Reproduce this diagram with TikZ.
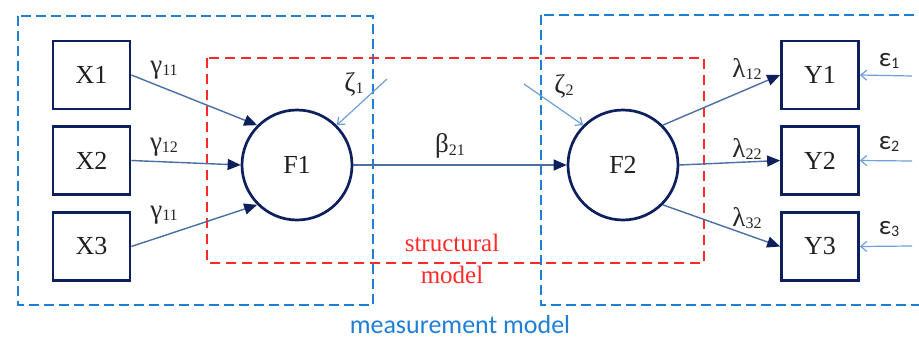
\documentclass[tikz,border=0pt]{standalone}
\usepackage{fontspec}
\setmainfont{Liberation Serif}
\newfontfamily\calib{Carlito}
\usetikzlibrary{arrows.meta}
\definecolor{navy}{HTML}{0D1F5C}
\definecolor{linec}{HTML}{4B6EA3}
\definecolor{lightc}{HTML}{6E9FD8}
\definecolor{dblue}{HTML}{1F7FD6}
\definecolor{dred}{HTML}{FF2A2A}
\newcommand\glab[2]{{\fontsize{27}{27}\selectfont #1}\raisebox{-0.25em}{\fontsize{16}{16}\selectfont #2}}
\begin{document}
\begin{tikzpicture}[x=1pt,y=-1pt,
  obsbox/.style={draw=navy,line width=2.7pt,minimum width=77pt,minimum height=68pt,inner sep=0pt,font=\fontsize{26}{26}\selectfont,text=black!88},
  latent/.style={circle,draw=navy,line width=2.7pt,minimum size=110pt,inner sep=0pt,font=\fontsize{26}{26}\selectfont,text=black!88},
  path/.style={draw=linec,line width=1.4pt,-{Triangle[length=13pt,width=11pt,fill=navy,color=navy]}},
  errarrow/.style={draw=lightc,line width=1.2pt,-{Straight Barb[length=6pt,width=10pt]}},
  glabel/.style={inner sep=0pt,text=black!85},
  blued/.style={draw=dblue,line width=2.8pt,dash pattern=on 10pt off 5pt},
  redd/.style={draw=dred,line width=2.8pt,dash pattern=on 10pt off 6pt}
]
\useasboundingbox (0,0) rectangle (919,340);
\clip (0,0) rectangle (919,340);
\fill[white] (0,0) rectangle (919,340);

% dashed frames
\draw[blued] (18,16) rectangle (373,305);
\draw[blued] (541,15) rectangle (940,305);
\draw[redd] (207,58) rectangle (704,263);

% nodes
\node[obsbox] (X1) at (91.5,75) {X1};
\node[obsbox] (X2) at (91.5,160.5) {X2};
\node[obsbox] (X3) at (91.5,246.5) {X3};
\node[obsbox] (Y1) at (820,75) {Y1};
\node[obsbox] (Y2) at (820,160.5) {Y2};
\node[obsbox] (Y3) at (820,246.5) {Y3};
\node[latent] (F1) at (297,165) {F1};
\node[latent] (F2) at (623,165) {F2};

\coordinate (z1) at (387,79);
\coordinate (z2) at (524,84);
\coordinate (e1) at (912,76);
\coordinate (e2) at (912,161);
\coordinate (e3) at (912,246);

% paths
\draw[path] (X1.east) -- (F1.135);
\draw[path] (X2.east) -- (F1.west);
\draw[path] (X3.east) -- (F1.225);
\draw[path] (F1.east) -- (F2.west);
\draw[path] (F2.45) -- (Y1.west);
\draw[path] (F2.east) -- (Y2.west);
\draw[path] (F2.-45) -- (Y3.west);
\draw[errarrow] (z1) -- (F1.45);
\draw[errarrow] (z2) -- (F2.135);
\draw[errarrow] (e1) -- (Y1.east);
\draw[errarrow] (e2) -- (Y2.east);
\draw[errarrow] (e3) -- (Y3.east);

% labels
\node[glabel] (g1) at (164,70) {\glab{γ}{11}};
\node[glabel] (g2) at (164,147) {\glab{γ}{12}};
\node[glabel] (g3) at (164,215) {\glab{γ}{11}};
\node[glabel] (b21) at (450,146) {\glab{β}{21}};
\node[glabel] (zeta1) at (354,84) {\glab{ζ}{1}};
\node[glabel] (zeta2) at (564,86) {\glab{ζ}{2}};
\node[glabel] (l12) at (747,69) {\glab{λ}{12}};
\node[glabel] (l22) at (747,149) {\glab{λ}{22}};
\node[glabel] (l32) at (747,218) {\glab{λ}{32}};
\node[glabel] (eps1) at (889,61) {\calib\glab{ε}{1}};
\node[glabel] (eps2) at (889,144) {\calib\glab{ε}{2}};
\node[glabel] (eps3) at (889,229) {\calib\glab{ε}{3}};

\node[inner sep=0pt,text=dred,font=\fontsize{25}{25}\selectfont] (sm1) at (452,243) {structural};
\node[inner sep=0pt,text=dred,font=\fontsize{25}{25}\selectfont] (sm2) at (452,275) {model};
\node[inner sep=0pt,text=dblue,font=\calib\fontsize{26}{26}\selectfont] (mm) at (460,325) {measurement model};
\end{tikzpicture}
\end{document}
